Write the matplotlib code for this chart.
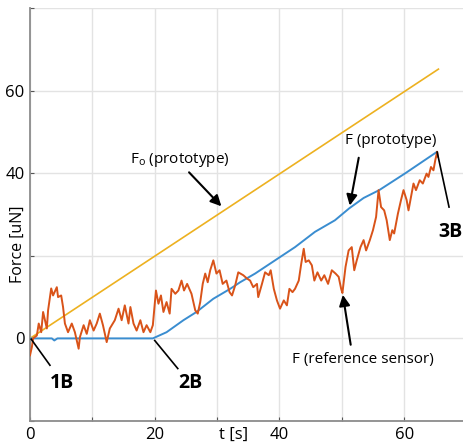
import matplotlib
matplotlib.use('Agg')
import matplotlib.pyplot as plt
import numpy as np

plt.rcParams['font.family'] = ['Open Sans', 'DejaVu Sans']

# yellow: F0 (prototype)
t_f0 = [0, 65.5]
f_f0 = [0, 65.2]

# blue: F (prototype)
t_proto = [0, 3.5, 3.9, 4.4, 10, 19.7, 21.9, 24.6, 26.7, 29.4, 32.1, 33.7, 36.1,
           39.3, 42.5, 45.7, 48.9, 51.2, 53.5, 56, 60.2, 65.2]
f_proto = [0, 0, -0.5, 0, 0, 0, 1.5, 4.4, 6.4, 9.6, 12, 13.6, 15.7,
           18.9, 22.1, 25.8, 28.6, 31.5, 34, 35.9, 40, 45.1]

# orange: F (reference sensor)
t_ref = [0, 0.3, 0.5, 1.1, 1.4, 1.8, 2.1, 2.7, 2.9, 3.4, 3.7, 4.3, 4.5, 5.0, 5.3, 5.6,
         6.1, 6.7, 7.2, 7.8, 8.0, 8.6, 9.1, 9.6, 10.2, 10.7, 11.2, 11.7, 12.3, 12.8,
         13.6, 14.2, 14.7, 15.2, 15.8, 16.1, 16.6, 17.1, 17.7, 18.2, 18.7, 19.3, 19.7,
         20.2, 20.6, 21.0, 21.4, 21.9, 22.4, 22.7, 23.3, 23.8, 24.3, 24.7, 25.2, 25.9,
         26.5, 26.9, 27.3, 27.7, 28.1, 28.5, 28.9, 29.4, 29.9, 30.4, 30.9, 31.5, 32.0,
         32.4, 32.9, 33.4, 34.2, 34.8, 35.3, 35.8, 36.4, 36.6, 37.2, 37.7, 38.3, 38.6,
         39.1, 39.6, 40.1, 40.7, 41.2, 41.6, 42.1, 42.5, 43.1, 43.5, 43.9, 44.2, 44.7,
         45.2, 45.6, 46.1, 46.7, 47.2, 47.8, 48.4, 49.0, 49.5, 49.9, 50.1, 50.6, 51.1,
         51.6, 52.0, 52.4, 53.0, 53.5, 53.9, 54.5, 55.0, 55.5, 55.9, 56.3, 56.8, 57.2,
         57.7, 58.1, 58.4, 59.0, 59.5, 59.9, 60.4, 60.7, 61.1, 61.5, 61.9, 62.5, 63.0,
         63.6, 63.9, 64.3, 64.7, 65.0, 65.3, 65.4]
f_ref = [-4.1, -2.1, 0, 0.7, 3.6, 1.5, 6.4, 2.4, 6.8, 12.1, 10.4, 12.4, 10, 10.4, 7.6, 3.6,
         1.5, 3.6, 1.5, -2.5, 0.3, 3.2, 1.1, 4.4, 1.9, 3.6, 6, 3.2, -0.9, 2.4,
         4.4, 7.2, 4.4, 8, 3.6, 7.6, 3.6, 1.9, 4.4, 1.5, 3.2, 1.5, 3.2,
         11.6, 8.4, 10.4, 6.4, 8.8, 6, 12, 10.8, 11.6, 14, 11.6, 13.2, 10.8,
         6.8, 6, 8.8, 13.2, 15.7, 13.6, 16.5, 18.9, 15.7, 16.5, 13.2, 14, 11.2,
         10.4, 12.8, 16, 15.3, 14.5, 14, 12.4, 13.2, 10, 13.2, 16, 15.3, 16.5,
         12, 9.2, 7.2, 9.2, 8, 12, 11.2, 12, 14, 18.1, 21.7, 18.5, 18.9,
         17.7, 14, 16, 14, 15.3, 13.2, 16.5, 15.7, 14.9, 12, 11, 17.3, 21.3,
         22.1, 16.5, 18.9, 22.1, 23.8, 21.3, 23.8, 26.2, 29.4, 35.9, 31.8, 31, 28.6,
         23.8, 26.2, 25.4, 30.2, 33.5, 35.9, 33.5, 31, 34.3, 37.5, 35.9, 38.3, 37.5,
         39.9, 39.1, 41.5, 40.7, 43.2, 45.2, 44]

xticks = [0, 10, 20, 30, 40, 50, 60]
xticklabels = ['0', '', '20', '', '40', '', '60']
yticks = [-20, 0, 20, 40, 60, 80]
yticklabels = ['', '0', '', '40', '60', '']

fig = plt.figure(figsize=(4.64, 4.43), dpi=100)
ax = fig.add_axes([30 / 464, 22 / 443, 1 - 30 / 464, (421 - 8) / 443])

ax.plot(t_f0, f_f0, color='#EDB120', lw=1.2, zorder=3)
ax.plot(t_proto, f_proto, color='#3a8dd0', lw=1.4, zorder=4)
ax.plot(t_ref, f_ref, color='#D95319', lw=1.4, zorder=5)

ax.set_xlim(0, 69.6)
ax.set_ylim(-20, 80)
ax.set_xticks(xticks)
ax.set_xticklabels(xticklabels)
ax.set_yticks(yticks)
ax.set_yticklabels(yticklabels)
ax.grid(True, color='#e3e3e3', lw=1)
ax.set_axisbelow(True)
for s in ['top', 'right']:
    ax.spines[s].set_visible(False)
for s in ['left', 'bottom']:
    ax.spines[s].set_color('#8c8c8c')
    ax.spines[s].set_linewidth(1.3)
ax.tick_params(direction='in', length=3, color='#555555', labelsize=12, pad=4)

# x label sits in the tick label row, between 20 and 40
ax.annotate('t [s]', xy=(32.6, 0), xycoords=('data', 'axes fraction'),
            xytext=(0, -4), textcoords='offset points',
            fontsize=12, ha='center', va='top')
ax.text(-1.9, 22.8, 'Force [uN]', fontsize=11.5, rotation=90, ha='center', va='center')

arrow = dict(arrowstyle='-|>', color='black', lw=1.5, mutation_scale=16)
ax.annotate('', xy=(31, 31.5), xytext=(25.2, 40.7), arrowprops=arrow)
ax.text(24.1, 43.2, r'F$_\mathregular{o}$ (prototype)', fontsize=11, ha='center', va='center')
ax.annotate('', xy=(51.2, 31.5), xytext=(52.8, 44.4), arrowprops=arrow)
ax.text(57.9, 48, 'F (prototype)', fontsize=11, ha='center', va='center')
ax.annotate('', xy=(50.1, 11.2), xytext=(51.5, -2.2), arrowprops=arrow)
ax.text(53.4, -5.1, 'F (reference sensor)', fontsize=11, ha='center', va='center')

ax.plot([3.2, 0.2], [-6.5, -0.2], color='black', lw=1.2, zorder=6)
ax.text(5.1, -10.7, '1B', fontsize=14, fontweight='bold', ha='center', va='center')
ax.plot([23.7, 20], [-7.3, -0.5], color='black', lw=1.2, zorder=6)
ax.text(25.7, -10.7, '2B', fontsize=14, fontweight='bold', ha='center', va='center')
ax.plot([67.2, 65.3], [31.8, 45.1], color='black', lw=1.2, zorder=6)
ax.text(67.5, 25.7, '3B', fontsize=14, fontweight='bold', ha='center', va='center')

fig.savefig('out.png', dpi=100)
